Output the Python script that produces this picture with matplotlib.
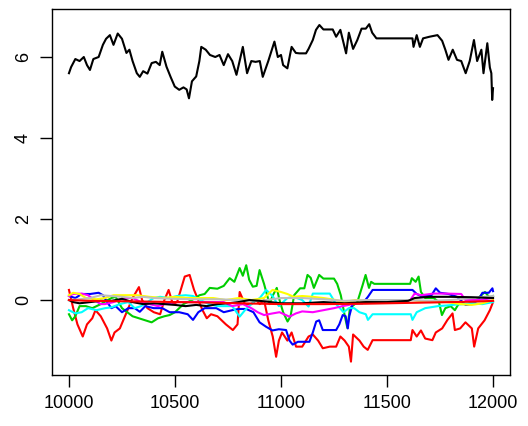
import numpy as np
import matplotlib
matplotlib.use('Agg')
import matplotlib.pyplot as plt

plt.rcParams['font.family'] = ['Liberation Sans', 'DejaVu Sans']

# 10 series (R palette order: black, red, green3, blue, cyan, magenta, yellow, gray, black, red)
x_black = [10000, 10010, 10030, 10050, 10070, 10085, 10099, 10115, 10140, 10160, 10175, 10193, 10210, 10230,
           10250, 10271, 10285, 10300, 10320, 10334, 10350, 10370, 10390, 10410, 10428, 10440, 10460, 10480,
           10499, 10520, 10540, 10555, 10566, 10580, 10600, 10615, 10624, 10645, 10665, 10690, 10710, 10730,
           10750, 10770, 10790, 10820, 10840, 10860, 10880, 10900, 10914, 10940, 10969, 10985, 11000, 11010,
           11030, 11050, 11070, 11087, 11118, 11130, 11150, 11165, 11181, 11200, 11244, 11260, 11280, 11307,
           11320, 11340, 11360, 11380, 11400, 11416, 11430, 11450, 11620, 11625, 11640, 11655, 11670, 11700,
           11738, 11760, 11775, 11790, 11810, 11830, 11850, 11871, 11890, 11910, 11925, 11945, 11955, 11973,
           11985, 11992, 11996, 12000]
y_black = [5.6, 5.75, 5.95, 5.9, 6.0, 5.8, 5.68, 5.95, 6.0, 6.3, 6.45, 6.54, 6.3, 6.58,
           6.45, 6.1, 6.18, 5.9, 5.6, 5.51, 5.65, 5.59, 5.85, 5.88, 5.8, 6.13, 5.76, 5.5,
           5.27, 5.19, 5.25, 5.2, 4.98, 5.4, 5.52, 5.9, 6.25, 6.18, 6.05, 6.0, 6.05, 5.8,
           6.07, 5.9, 5.56, 6.25, 5.6, 5.9, 5.88, 5.9, 5.51, 5.9, 6.38, 6.0, 6.05, 5.8,
           5.72, 6.25, 6.1, 6.09, 6.09, 6.2, 6.42, 6.67, 6.79, 6.68, 6.68, 6.5, 6.67, 6.09,
           6.6, 6.2, 6.42, 6.7, 6.7, 6.81, 6.6, 6.46, 6.46, 6.25, 6.54, 6.25, 6.46, 6.5,
           6.54, 6.4, 6.18, 5.93, 6.18, 5.93, 5.9, 5.6, 5.9, 6.42, 5.9, 6.18, 5.6, 6.34,
           5.74, 5.6, 4.94, 5.23]

x_red = [10000, 10020, 10040, 10065, 10085, 10110, 10125, 10150, 10180, 10200, 10215, 10240, 10260, 10280,
         10300, 10330, 10345, 10370, 10400, 10430, 10450, 10470, 10490, 10510, 10546, 10569, 10590, 10610,
         10630, 10650, 10670, 10700, 10740, 10773, 10795, 10805, 10830, 10860, 10883, 10900, 10920, 10940,
         10961, 10977, 10990, 11005, 11030, 11050, 11071, 11100, 11130, 11150, 11175, 11197, 11230, 11260,
         11280, 11300, 11320, 11330, 11340, 11370, 11390, 11409, 11432, 11612, 11620, 11640, 11660, 11680,
         11714, 11730, 11760, 11785, 11809, 11820, 11845, 11870, 11900, 11911, 11930, 11960, 11985, 12000]
y_red = [0.25, -0.2, -0.6, -0.9, -0.6, -0.45, -0.25, -0.4, -0.7, -1.0, -0.8, -0.7, -0.45, -0.2,
         0.05, 0.32, 0.0, -0.2, -0.3, -0.35, 0.0, 0.25, -0.1, -0.05, 0.58, 0.62, 0.25, 0.0,
         -0.25, -0.45, -0.35, -0.4, -0.6, -0.74, -0.6, 0.2, -0.1, -0.1, 0.0, -0.1, 0.0, -0.5,
         -0.9, -1.4, -1.0, -0.8, -1.0, -0.8, -1.15, -1.15, -0.9, -0.85, -1.0, -1.19, -1.15, -1.15,
         -0.9, -1.0, -1.15, -1.52, -0.85, -1.0, -1.15, -1.23, -0.99, -0.99, -0.74, -0.9, -0.75, -0.95,
         -0.99, -0.8, -0.7, -0.49, -0.33, -0.74, -0.7, -0.55, -0.7, -1.15, -0.7, -0.5, -0.25, -0.05]

x_green = [10000, 10015, 10030, 10050, 10080, 10110, 10150, 10200, 10220, 10250, 10300, 10330, 10360, 10390,
           10420, 10450, 10475, 10500, 10540, 10580, 10616, 10640, 10664, 10700, 10730, 10758, 10780, 10805,
           10820, 10836, 10850, 10867, 10885, 10899, 10920, 10946, 10960, 10980, 10993, 11010, 11031, 11045,
           11062, 11090, 11110, 11125, 11140, 11155, 11180, 11200, 11250, 11265, 11282, 11300, 11313, 11325,
           11360, 11385, 11399, 11415, 11425, 11440, 11609, 11617, 11635, 11649, 11660, 11680, 11720, 11745,
           11759, 11775, 11800, 11820, 11837, 11880, 11920, 11962, 11985, 12000]
y_green = [-0.35, -0.5, -0.4, -0.15, -0.15, -0.2, -0.1, 0.05, 0.08, -0.2, -0.4, -0.45, -0.5, -0.55,
           -0.45, -0.4, -0.37, -0.3, -0.1, 0.0, 0.12, 0.15, 0.3, 0.28, 0.35, 0.54, 0.45, 0.79,
           0.6, 0.86, 0.5, 0.33, 0.35, 0.74, 0.4, -0.1, 0.1, 0.3, 0.0, -0.3, -0.53, -0.4,
           0.12, 0.29, 0.29, 0.62, 0.55, 0.3, 0.62, 0.53, 0.53, 0.4, 0.12, -0.37, -0.69, -0.2,
           -0.05, 0.37, 0.62, 0.3, 0.45, 0.4, 0.4, 0.54, 0.45, 0.58, 0.2, 0.05, 0.05, -0.05,
           -0.37, -0.2, -0.15, -0.25, -0.1, -0.1, 0.0, 0.2, 0.05, 0.1]

x_blue = [10000, 10030, 10060, 10100, 10140, 10160, 10180, 10200, 10220, 10250, 10280, 10310, 10334, 10360,
          10400, 10440, 10475, 10520, 10560, 10585, 10610, 10640, 10695, 10730, 10770, 10800, 10836, 10870,
          10899, 10930, 10960, 10990, 11024, 11040, 11055, 11080, 11134, 11150, 11166, 11180, 11197, 11260,
          11275, 11291, 11305, 11315, 11322, 11338, 11385, 11410, 11432, 11620, 11640, 11660, 11710, 11730,
          11750, 11790, 11830, 11871, 11900, 11930, 11950, 11980, 11997, 12000]
y_blue = [0.1, 0.05, 0.15, 0.15, 0.18, 0.12, -0.05, -0.2, -0.15, -0.3, -0.2, -0.2, -0.29, -0.15,
          -0.2, -0.2, -0.3, -0.3, -0.35, -0.49, -0.3, -0.2, -0.2, -0.3, -0.25, -0.22, -0.22, -0.3,
          -0.55, -0.66, -0.75, -0.72, -0.74, -1.0, -1.1, -1.03, -1.03, -0.8, -0.53, -0.5, -0.74, -0.74,
          -0.6, -0.37, -0.4, -0.7, -0.4, -0.08, -0.08, 0.08, 0.25, 0.25, 0.15, 0.1, 0.12, 0.29,
          0.18, 0.15, 0.08, -0.12, -0.1, 0.0, 0.18, 0.18, 0.29, 0.22]

x_cyan = [10000, 10030, 10060, 10090, 10130, 10170, 10200, 10240, 10280, 10310, 10340, 10370, 10400, 10430,
          10470, 10510, 10550, 10585, 10620, 10660, 10700, 10770, 10805, 10830, 10870, 10900, 10930, 10960,
          10990, 11030, 11060, 11100, 11130, 11150, 11230, 11260, 11295, 11320, 11345, 11370, 11400, 11410,
          11432, 11612, 11620, 11640, 11680, 11740, 11790, 11850, 11900, 11950, 12000]
y_cyan = [-0.25, -0.33, -0.3, -0.2, -0.25, -0.2, -0.18, -0.1, -0.05, -0.2, -0.15, -0.05, 0.05, 0.08,
          0.05, 0.1, 0.12, 0.1, 0.0, -0.1, -0.15, -0.15, -0.41, -0.25, -0.05, 0.05, 0.25, 0.1,
          -0.15, 0.05, 0.08, 0.0, -0.16, 0.16, 0.16, -0.1, -0.3, -0.2, -0.2, -0.3, -0.35, -0.49,
          -0.35, -0.35, -0.49, -0.3, -0.2, -0.15, -0.13, -0.1, -0.08, -0.1, -0.05]

x_magenta = [10000, 10020, 10060, 10090, 10120, 10150, 10170, 10210, 10260, 10300, 10340, 10380, 10420, 10450,
             10500, 10560, 10620, 10680, 10730, 10770, 10820, 10860, 10890, 10920, 10960, 10993, 11040, 11070,
             11100, 11150, 11200, 11250, 11290, 11340, 11400, 11432, 11610, 11630, 11660, 11720, 11780, 11850,
             11870, 11930, 12000]
y_magenta = [0.1, 0.15, 0.16, 0.12, 0.0, -0.1, -0.1, -0.05, 0.05, 0.05, -0.05, -0.1, -0.15, -0.1,
             -0.05, -0.05, -0.05, -0.05, -0.05, -0.15, -0.1, -0.2, -0.3, -0.37, -0.33, -0.3, -0.41, -0.33,
             -0.28, -0.3, -0.25, -0.2, -0.15, -0.1, -0.05, 0.0, 0.0, 0.16, 0.12, 0.16, 0.16, 0.15,
             0.0, 0.0, 0.05]

x_yellow = [10000, 10020, 10050, 10080, 10130, 10170, 10210, 10260, 10320, 10380, 10440, 10500, 10560, 10620,
            10680, 10740, 10800, 10860, 10920, 10960, 11000, 11030, 11060, 11100, 11150, 11200, 11260, 11300,
            11350, 11400, 11450, 11550, 11620, 11700, 11780, 11850, 11900, 11950, 12000]
y_yellow = [0.12, 0.18, 0.15, 0.05, 0.02, 0.05, 0.12, 0.12, 0.12, 0.08, 0.05, 0.08, 0.05, 0.05,
            0.05, 0.0, 0.05, 0.0, 0.05, 0.25, 0.2, 0.15, 0.08, 0.1, 0.08, 0.05, 0.0, -0.05,
            0.0, -0.02, 0.0, 0.0, 0.0, -0.05, -0.05, -0.1, -0.12, -0.08, 0.0]

x_gray = [10000, 10050, 10100, 10150, 10200, 10250, 10300, 10350, 10400, 10500, 10600, 10700, 10800,
          10900, 11000, 11100, 11200, 11300, 11400, 11500, 11600, 11700, 11800, 11900, 12000]
y_gray = [0.0, 0.02, 0.05, 0.12, 0.1, 0.08, 0.05, 0.08, 0.05, 0.03, 0.02, 0.02, 0.0,
          -0.02, 0.05, 0.05, 0.02, -0.02, 0.0, 0.0, 0.0, -0.02, 0.0, 0.05, 0.1]

x_black2 = [10000, 10020, 10050, 10100, 10150, 10200, 10250, 10300, 10350, 10400, 10450, 10500, 10550,
            10600, 10650, 10700, 10750, 10800, 10850, 10900, 10950, 11000, 11100, 11200, 11300, 11400,
            11500, 11600, 11630, 11700, 11800, 11900, 12000]
y_black2 = [0.0, -0.05, -0.08, -0.05, -0.02, -0.02, 0.03, -0.05, -0.1, -0.08, -0.1, -0.12, -0.15,
            -0.12, -0.15, -0.1, -0.08, -0.05, 0.0, -0.02, -0.05, -0.08, -0.08, -0.05, -0.08, -0.05,
            -0.05, -0.02, 0.05, 0.08, 0.08, 0.07, 0.05]

x_red2 = [10000, 10100, 10250, 10400, 10500, 10650, 10800, 11000, 11200, 11400, 11500, 11700, 11900, 12000]
y_red2 = [0.0, -0.02, -0.03, -0.04, -0.05, -0.06, -0.08, -0.1, -0.1, -0.09, -0.08, -0.06, -0.04, -0.02]

series = [
    (x_black, y_black, 'black'),
    (x_red, y_red, '#FF0000'),
    (x_green, y_green, '#00CD00'),
    (x_blue, y_blue, '#0000FF'),
    (x_cyan, y_cyan, '#00FFFF'),
    (x_magenta, y_magenta, '#FF00FF'),
    (x_yellow, y_yellow, '#FFFF00'),
    (x_gray, y_gray, '#BEBEBE'),
    (x_black2, y_black2, 'black'),
    (x_red2, y_red2, '#FF0000'),
]

fig = plt.figure(figsize=(5.28, 4.26), dpi=100)
ax = fig.add_axes([52 / 528, 51 / 426, 458 / 528, 366 / 426])

for xs, ys, c in series:
    ax.plot(xs, ys, color=c, linewidth=1.5)

ax.set_xlim(9920, 12080)
ax.set_ylim(-1.85, 7.185)
ax.set_xticks([10000, 10500, 11000, 11500, 12000])
ax.set_yticks([0, 2, 4, 6])
ax.tick_params(direction='out', length=8.5, width=1.0, labelsize=13, pad=6)
plt.setp(ax.get_yticklabels(), rotation=90, va='center')
for s in ax.spines.values():
    s.set_linewidth(1.0)

plt.savefig('out.png', dpi=100)
